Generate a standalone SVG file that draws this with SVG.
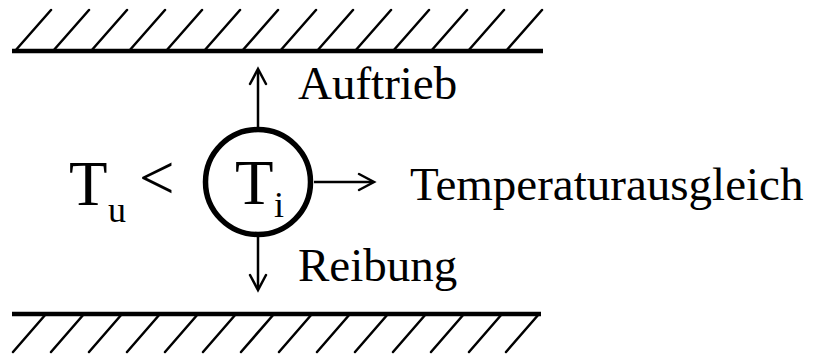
<svg xmlns="http://www.w3.org/2000/svg" width="817" height="357" viewBox="0 0 817 357">
<style>
.wall{stroke:#000;stroke-width:4.5;fill:none}
.hatch{stroke:#000;stroke-width:2.5;fill:none;stroke-linecap:round}
.con{stroke:#000;stroke-width:2.5;fill:none}
.head{stroke:#000;stroke-width:2.5;fill:none;stroke-linecap:round;stroke-linejoin:miter}
text{font-family:"Liberation Serif","Times New Roman",serif;fill:#000}
.lbl{font-size:47px}
.big{font-size:63px}
.sub{font-size:36px}
</style>
<rect width="817" height="357" fill="#fff"/>
<g id="wall-top">
<line class="wall" x1="12" y1="51" x2="543" y2="51"/>
<path class="hatch" d="M15 51L51 10M53 51L89 10M91 51L127 10M129 51L165 10M166 51L202 10M204 51L240 10M242 51L278 10M280 51L316 10M317 51L353 10M355 51L391 10M393 51L429 10M431 51L467 10M468 51L504 10M506 51L542 10"/>
</g>
<g id="wall-bottom">
<line class="wall" x1="12" y1="314" x2="541" y2="314"/>
<path class="hatch" d="M46 314L13 352M84 314L51 352M122 314L89 352M160 314L127 352M198 314L165 352M236 314L203 352M274 314L241 352M312 314L279 352M350 314L317 352M388 314L355 352M426 314L393 352M464 314L431 352M502 314L469 352M539 314L506 352"/>
</g>
<g id="connectors">
<line class="con" x1="258" y1="127" x2="258" y2="70"/>
<path class="head" d="M250 84L258 69L266 84"/>
<line class="con" x1="258" y1="237" x2="258" y2="289"/>
<path class="head" d="M250 275L258 290L266 275"/>
<line class="con" x1="314" y1="182" x2="373" y2="182"/>
<path class="head" d="M359 174L374 182L359 190"/>
</g>
<g id="node-Ti">
<circle cx="258" cy="182" r="52.5" fill="none" stroke="#000" stroke-width="5.5"/>
<text class="big" x="235" y="204">T</text>
<text class="sub" x="274" y="217">i</text>
</g>
<g id="node-Tu">
<text class="big" x="69" y="205">T</text>
<text class="sub" x="108" y="222">u</text>
<text class="big" x="139" y="199">&lt;</text>
</g>
<g id="label-auftrieb"><text class="lbl" x="298" y="99">Auftrieb</text></g>
<g id="label-temp"><text class="lbl" x="410" y="200">Temperaturausgleich</text></g>
<g id="label-reibung"><text class="lbl" x="298" y="281">Reibung</text></g>
</svg>
